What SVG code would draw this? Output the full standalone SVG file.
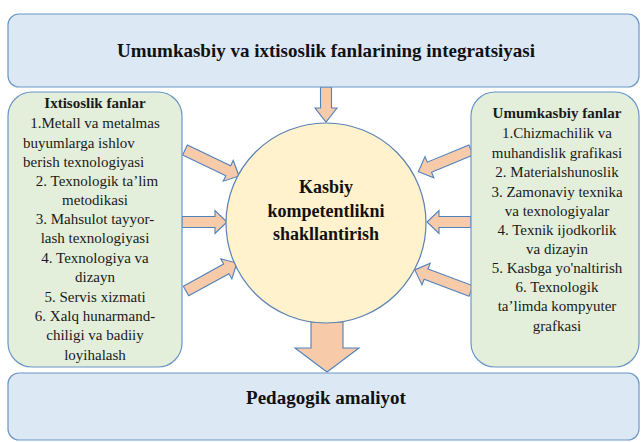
<svg xmlns="http://www.w3.org/2000/svg" width="642" height="442" viewBox="0 0 642 442" font-family="Times New Roman, Liberation Serif, serif">
<rect width="642" height="442" fill="#fff"/>
<g id="connectors" fill="#f7caa9" stroke="#4f81bd" stroke-width="1.1">
<path transform="translate(326,87) rotate(90)" d="M0,-5.5 H21 V-11 L35,0 L21,11 V5.5 H0 Z"/>
<path d="M311,322 H343 V348 H359 L327,372 L295,348 H311 Z"/>
<path transform="translate(185,150) rotate(25.7)" d="M0,-5.5 H48 V-11.5 L60,0 L48,11.5 V5.5 H0 Z"/>
<path transform="translate(182,222)" d="M0,-5.5 H33 V-11.5 L45,0 L33,11.5 V5.5 H0 Z"/>
<path transform="translate(186,291) rotate(-28.8)" d="M0,-5.5 H46 V-11.5 L58,0 L46,11.5 V5.5 H0 Z"/>
<path transform="translate(471,150) rotate(157.5)" d="M0,-5.5 H45 V-11.5 L57,0 L45,11.5 V5.5 H0 Z"/>
<path transform="translate(471,222) rotate(180)" d="M0,-5.5 H32 V-11.5 L44,0 L32,11.5 V5.5 H0 Z"/>
<path transform="translate(471,291) rotate(200.6)" d="M0,-5.5 H48 V-11.5 L60,0 L48,11.5 V5.5 H0 Z"/>
</g>
<g id="top">
<rect x="8" y="14" width="631" height="73" rx="11" fill="#dde8f5" stroke="#6a96c8" stroke-width="1.2"/>
<text x="326" y="57" style="font-family:'Times New Roman','Liberation Serif',serif" font-weight="bold" font-size="19" fill="#111" text-anchor="middle">Umumkasbiy va ixtisoslik fanlarining integratsiyasi</text>
</g>
<g id="bottom">
<rect x="8" y="373" width="631" height="67" rx="11" fill="#dde8f5" stroke="#6a96c8" stroke-width="1.2"/>
<text x="326" y="404" style="font-family:'Times New Roman','Liberation Serif',serif" font-weight="bold" font-size="19" fill="#111" text-anchor="middle">Pedagogik amaliyot</text>
</g>
<g id="left">
<rect x="8" y="92" width="174" height="275" rx="24" fill="#e3efda" stroke="#6a96c8" stroke-width="1.2"/>
<g style="font-family:'Times New Roman','Liberation Serif',serif" font-size="15" fill="#1a1a1a" text-anchor="middle">
<text x="95" y="108" font-weight="bold">Ixtisoslik fanlar</text>
<text x="95" y="128">1.Metall va metalmas</text>
<text x="23" y="148" text-anchor="start">buyumlarga ishlov</text>
<text x="23" y="167" text-anchor="start">berish texnologiyasi</text>
<text x="97" y="186">2. Texnologik ta’lim</text>
<text x="95" y="205">metodikasi</text>
<text x="95" y="224">3. Mahsulot tayyor-</text>
<text x="95" y="243">lash texnologiyasi</text>
<text x="95" y="263">4. Texnologiya va</text>
<text x="95" y="282">dizayn</text>
<text x="95" y="302">5. Servis xizmati</text>
<text x="95" y="321">6. Xalq hunarmand-</text>
<text x="95" y="340">chiligi va badiiy</text>
<text x="95" y="360">loyihalash</text>
</g>
</g>
<g id="right">
<rect x="471" y="92" width="168" height="275" rx="24" fill="#e3efda" stroke="#6a96c8" stroke-width="1.2"/>
<g style="font-family:'Times New Roman','Liberation Serif',serif" font-size="15" fill="#1a1a1a" text-anchor="middle">
<text x="557" y="118" font-weight="bold">Umumkasbiy fanlar</text>
<text x="557" y="138">1.Chizmachilik va</text>
<text x="557" y="158">muhandislik grafikasi</text>
<text x="557" y="177">2. Materialshunoslik</text>
<text x="557" y="197">3. Zamonaviy texnika</text>
<text x="557" y="216">va texnologiyalar</text>
<text x="557" y="235">4. Texnik ijodkorlik</text>
<text x="557" y="254">va dizayin</text>
<text x="557" y="273">5. Kasbga yo'naltirish</text>
<text x="557" y="292">6. Texnologik</text>
<text x="557" y="311">ta’limda kompyuter</text>
<text x="557" y="331">grafkasi</text>
</g>
</g>
<g id="center">
<circle cx="326" cy="223" r="100" fill="#fff2cc" stroke="#5b82b5" stroke-width="1.2"/>
<g style="font-family:'Times New Roman','Liberation Serif',serif" font-weight="bold" font-size="18" fill="#111" text-anchor="middle">
<text x="326" y="193">Kasbiy</text>
<text x="326" y="217">kompetentlikni</text>
<text x="326" y="240">shakllantirish</text>
</g>
</g>
</svg>
